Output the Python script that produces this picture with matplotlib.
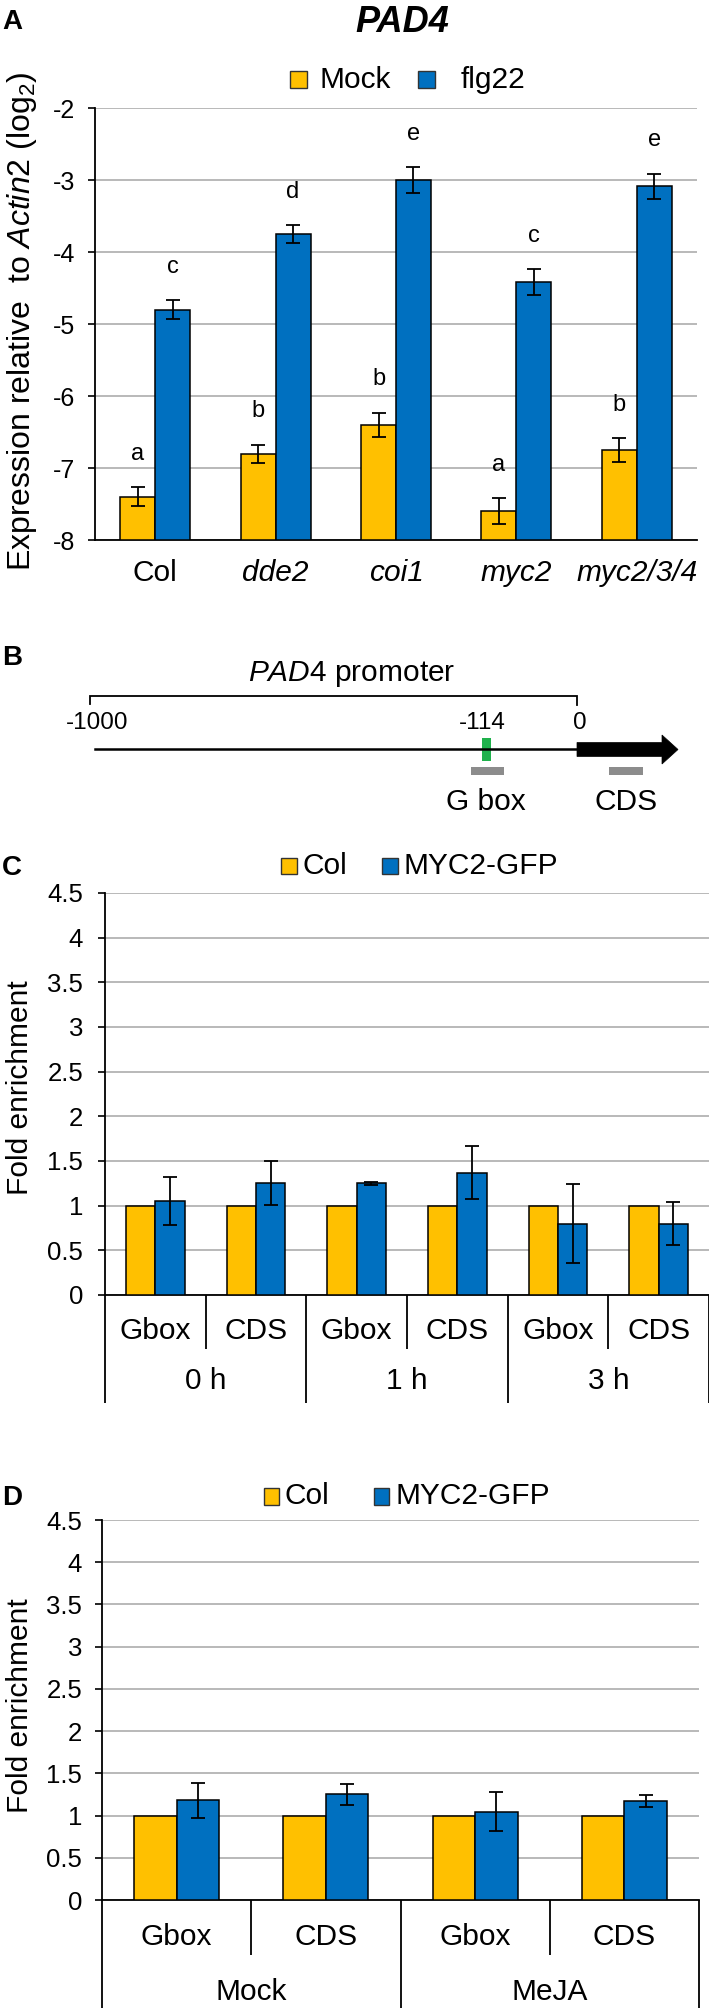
import matplotlib
matplotlib.use("Agg")
import matplotlib.pyplot as plt
from matplotlib.patches import Rectangle, Polygon
from matplotlib import transforms

plt.rcParams['font.family'] = ['Liberation Sans', 'DejaVu Sans']
plt.rcParams['mathtext.fontset'] = 'custom'
plt.rcParams['mathtext.rm'] = 'Liberation Sans'
plt.rcParams['mathtext.it'] = 'Liberation Sans:italic'
plt.rcParams['mathtext.bf'] = 'Liberation Sans:bold'

# ---------------- data ----------------
# Panel A
genotypes = ['Col', 'dde2', 'coi1', 'myc2', 'myc2/3/4']
genotype_italic = [False, True, True, True, True]
mock_vals = [-7.40, -6.80, -6.40, -7.60, -6.75]
mock_err = [0.13, 0.125, 0.17, 0.18, 0.17]
flg22_vals = [-4.80, -3.75, -3.00, -4.42, -3.09]
flg22_err = [0.13, 0.125, 0.18, 0.18, 0.18]
mock_letters = ['a', 'b', 'b', 'a', 'b']
flg22_letters = ['c', 'd', 'e', 'c', 'e']
a_yticks = [-8, -7, -6, -5, -4, -3, -2]

# Panel B
b_coord_labels = ['-1000', '-114', '0']
b_region_labels = ['G box', 'CDS']

# Panel C
c_regions = ['Gbox', 'CDS', 'Gbox', 'CDS', 'Gbox', 'CDS']
c_times = ['0 h', '1 h', '3 h']
c_col = [1, 1, 1, 1, 1, 1]
c_myc2 = [1.05, 1.25, 1.25, 1.37, 0.80, 0.80]
c_myc2_err = [0.27, 0.245, 0.02, 0.30, 0.44, 0.24]

# Panel D
d_regions = ['Gbox', 'CDS', 'Gbox', 'CDS']
d_treatments = ['Mock', 'MeJA']
d_col = [1, 1, 1, 1]
d_myc2 = [1.18, 1.25, 1.045, 1.17]
d_myc2_err = [0.21, 0.12, 0.23, 0.07]

cd_yticks = [0, 0.5, 1, 1.5, 2, 2.5, 3, 3.5, 4, 4.5]

YEL = '#FFC000'
BLU = '#0070C0'
GRID = '#a6a6a6'

W, H = 709, 2014
fig = plt.figure(figsize=(W / 100, H / 100), dpi=100)


def add_ax(l, r, t, b):
    return fig.add_axes([l / W, 1 - b / H, (r - l) / W, (b - t) / H])


# overlay in pixel coords
ov = fig.add_axes([0, 0, 1, 1], zorder=10)
ov.set_xlim(0, W)
ov.set_ylim(H, 0)
ov.axis('off')
ov.patch.set_alpha(0)

FS = 21.5     # main text
FS_TICK_A = 18
FS_TICK = 18.5
FS_LET = 17
FS_PANEL = 20


def style_axes(ax, yticks, ylim, pad, labelsize):
    ax.set_ylim(*ylim)
    ax.set_yticks(yticks)
    ax.set_yticklabels([('%g' % v) for v in yticks])
    ax.tick_params(axis='y', direction='out', length=5, width=1.2, pad=pad,
                   labelsize=labelsize)
    ax.tick_params(axis='x', length=0, labelbottom=False)
    for s in ['top', 'right']:
        ax.spines[s].set_visible(False)
    for s in ['left', 'bottom']:
        ax.spines[s].set_linewidth(1.3)
        ax.spines[s].set_color('black')
    ax.yaxis.grid(True, color=GRID, lw=1.1)
    ax.set_axisbelow(True)
    ax.patch.set_alpha(0)


def legend_item(x0, x1, y0, y1, color, label, tx, ty):
    ov.add_patch(Rectangle((x0, y0), x1 - x0, y1 - y0, facecolor=color,
                           edgecolor='#333333', lw=1.0))
    ov.text(tx, ty, label, fontsize=FS, ha='left', va='center')


# ---------------- Panel A ----------------
axA = add_ax(95, 697, 108, 540)
style_axes(axA, a_yticks, (-8, -2), 9.4, FS_TICK_A)
nA = len(genotypes)
axA.set_xlim(-0.5, nA - 0.5)
bw = 0.29
xs = list(range(nA))
base = -8
axA.bar([x - bw / 2 for x in xs], [v - base for v in mock_vals], bw, bottom=base,
        color=YEL, edgecolor='black', lw=1.1, zorder=3)
axA.bar([x + bw / 2 for x in xs], [v - base for v in flg22_vals], bw, bottom=base,
        color=BLU, edgecolor='black', lw=1.1, zorder=3)
axA.errorbar([x - bw / 2 for x in xs], mock_vals, yerr=mock_err, fmt='none',
             ecolor='black', elinewidth=1.3, capsize=4.7, capthick=1.3, zorder=4)
axA.errorbar([x + bw / 2 for x in xs], flg22_vals, yerr=flg22_err, fmt='none',
             ecolor='black', elinewidth=1.3, capsize=4.7, capthick=1.3, zorder=4)
for i in xs:
    axA.text(i - bw / 2, mock_vals[i] + mock_err[i] + 0.46, mock_letters[i],
             ha='center', va='center', fontsize=FS_LET)
    axA.text(i + bw / 2, flg22_vals[i] + flg22_err[i] + 0.46, flg22_letters[i],
             ha='center', va='center', fontsize=FS_LET)
trA = transforms.blended_transform_factory(axA.transData, ov.transData)
for i, g in enumerate(genotypes):
    axA.text(i, 573, g, transform=trA, ha='center', va='center', fontsize=FS,
             style='italic' if genotype_italic[i] else 'normal')

ov.text(402, 22, 'PAD4', fontsize=26, fontweight='bold', style='italic',
        ha='center', va='center')
ov.text(22, 321, r'Expression relative  to $\mathit{Actin2}$ (log$_2$)',
        fontsize=23, rotation=90, ha='center', va='center')
legend_item(290, 307, 71, 88, YEL, 'Mock', 320, 80)
legend_item(418, 435, 71, 88, BLU, 'flg22', 461, 80)

# ---------------- Panel B ----------------
ov.plot([90, 90, 577, 577], [704, 696, 696, 705], color='black', lw=1.3,
        solid_joinstyle='miter')
ov.text(352, 681, r'$\mathit{PAD4}$ promoter', fontsize=FS, ha='center',
        va='baseline')
for lab, x in zip(b_coord_labels, [97, 482, 580]):
    ov.text(x, 723, lab, fontsize=17.5, ha='center', va='center')
ov.plot([95, 577], [749, 749], color='black', lw=1.8)
ov.add_patch(Polygon([(577, 742.5), (662, 742.5), (662, 735), (678, 749.5),
                      (662, 764), (662, 756.5), (577, 756.5)],
                     closed=True, facecolor='black', edgecolor='black', lw=0.5))
ov.add_patch(Rectangle((482, 738), 9, 23, facecolor='#1FB14C', edgecolor='none'))
ov.add_patch(Rectangle((471, 767), 33, 8, facecolor='#8c8c8c', edgecolor='none'))
ov.add_patch(Rectangle((609, 767), 34, 8, facecolor='#8c8c8c', edgecolor='none'))
for lab, x in zip(b_region_labels, [486, 626]):
    ov.text(x, 802, lab, fontsize=FS, ha='center', va='center')


# ---------------- Panels C & D ----------------
def fold_panel(ax, regions, groups, col_vals, myc_vals, myc_err, bw,
               y_inner_bot, y_outer_bot, y_reg, y_grp, per_group, pad):
    style_axes(ax, cd_yticks, (0, 4.5), pad, FS_TICK)
    n = len(regions)
    ax.set_xlim(-0.5, n - 0.5)
    xs = list(range(n))
    ax.bar([x - bw / 2 for x in xs], col_vals, bw, color=YEL, edgecolor='black',
           lw=1.1, zorder=3)
    ax.bar([x + bw / 2 for x in xs], myc_vals, bw, color=BLU, edgecolor='black',
           lw=1.1, zorder=3)
    ax.errorbar([x + bw / 2 for x in xs], myc_vals, yerr=myc_err, fmt='none',
                ecolor='black', elinewidth=1.3, capsize=4.7, capthick=1.3, zorder=4)
    tr = transforms.blended_transform_factory(ax.transData, ov.transData)
    y0 = ax.transData.transform((0, 0))[1]
    y_axis_px = H - y0
    for i, r in enumerate(regions):
        ax.text(i, y_reg, r, transform=tr, ha='center', va='center', fontsize=FS)
    for g, name in enumerate(groups):
        xc = g * per_group + (per_group - 1) / 2
        ax.text(xc, y_grp, name, transform=tr, ha='center', va='center', fontsize=FS)
    for b in range(n + 1):
        xb = b - 0.5
        outer = (b % per_group == 0)
        ybot = y_outer_bot if outer else y_inner_bot
        ax.plot([xb, xb], [y_axis_px, ybot], transform=tr, color='black',
                lw=1.3, clip_on=False, solid_capstyle='butt')


axC = add_ax(105, 709, 893, 1295)
fold_panel(axC, c_regions, c_times, c_col, c_myc2, c_myc2_err, 0.29,
           1349, 1403, 1331, 1381, 2, 10.8)
ov.text(20, 1088, 'Fold enrichment', fontsize=FS, rotation=90, ha='center', va='center')
legend_item(281, 297, 858, 874, YEL, 'Col', 302, 866)
legend_item(382, 398, 858, 874, BLU, 'MYC2-GFP', 404, 866)

axD = add_ax(102, 699, 1520, 1900)
fold_panel(axD, d_regions, d_treatments, d_col, d_myc2, d_myc2_err, 0.285,
           1955, 2008, 1937, 1992, 2, 9.4)
ov.text(20, 1706, 'Fold enrichment', fontsize=FS, rotation=90, ha='center', va='center')
legend_item(264, 279, 1488, 1505, YEL, 'Col', 285, 1496)
legend_item(374, 389, 1488, 1505, BLU, 'MYC2-GFP', 395, 1496)

# panel letters
for lab, y in zip(['A', 'B', 'C', 'D'], [22, 658, 868, 1498]):
    ov.text(12, y, lab, fontsize=FS_PANEL, fontweight='bold', ha='center', va='center')

fig.savefig('out.png', dpi=100)
